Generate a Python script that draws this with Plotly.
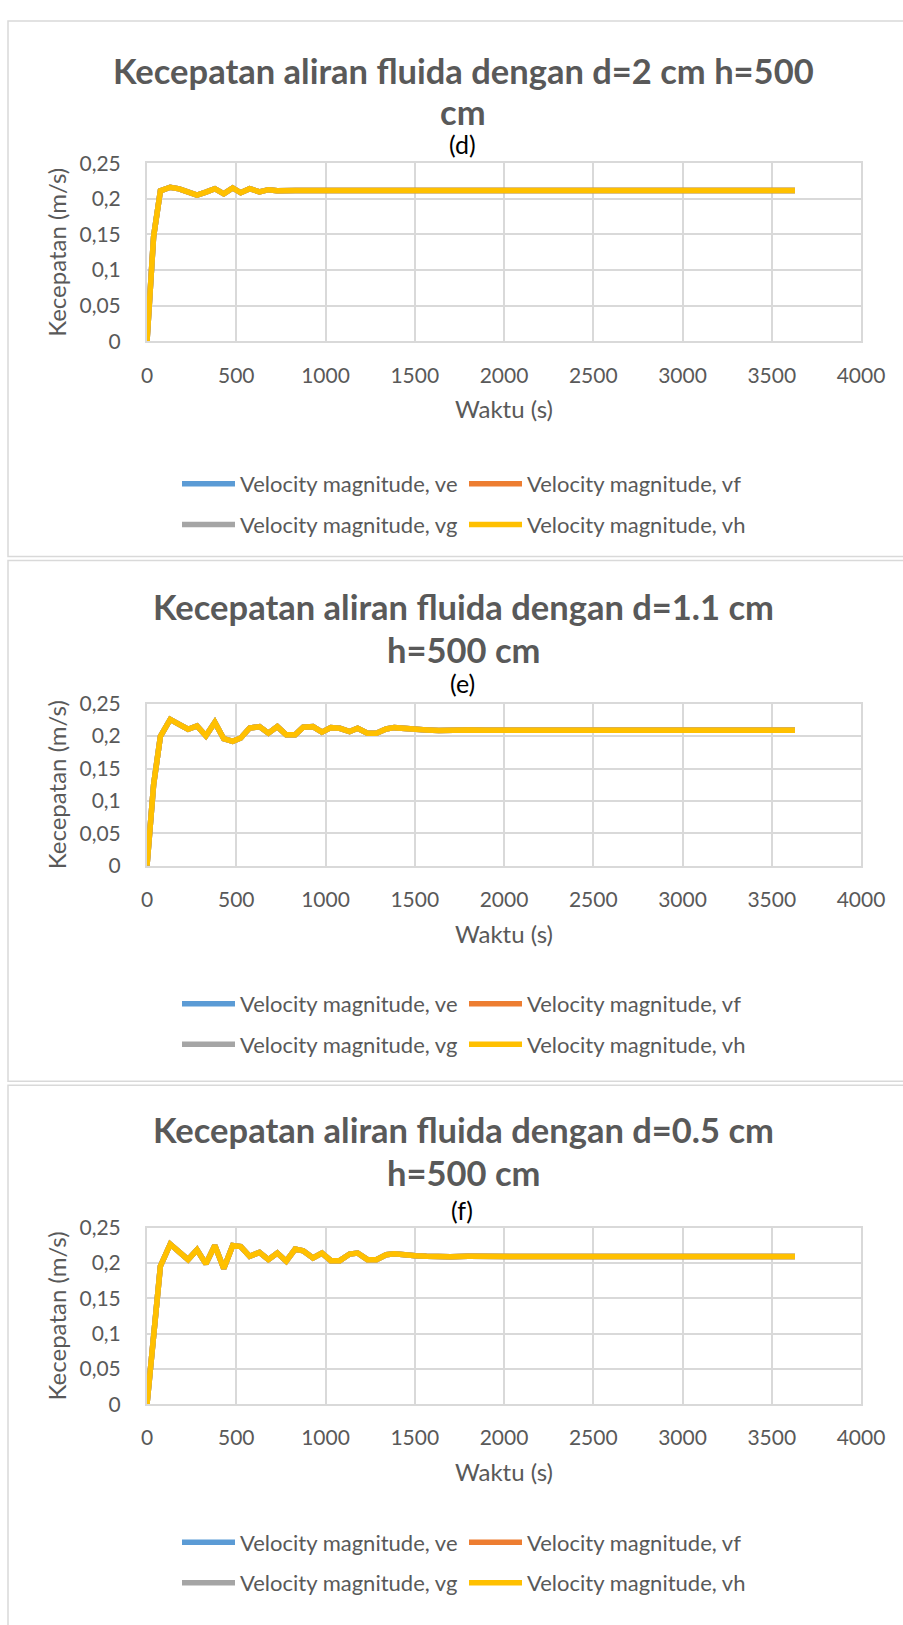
import plotly.graph_objects as go

# ---------------- data ----------------
time_s = [0, 37, 75, 130, 180, 230, 280, 330, 380, 430, 480, 525, 575, 630, 680,
          730, 780, 830, 875, 930, 980, 1030, 1080, 1135, 1180, 1235, 1285, 1340,
          1385, 1450, 1505, 1565, 1635, 1700, 1800, 1900, 2000, 2500, 3000, 3630]

v_d = [0, 0.147, 0.2112, 0.2162, 0.2140, 0.2088, 0.2052, 0.2095, 0.2142, 0.2070,
       0.2152, 0.2085, 0.2142, 0.2098, 0.2128, 0.2114, 0.2122, 0.2116, 0.2115, 0.2115,
       0.2115, 0.2115, 0.2115, 0.2115, 0.2115, 0.2115, 0.2115, 0.2115, 0.2115, 0.2115,
       0.2115, 0.2115, 0.2115, 0.2115, 0.2115, 0.2115, 0.2115, 0.2115, 0.2115, 0.2115]

v_e = [0, 0.125, 0.1995, 0.2258, 0.2180, 0.2106, 0.2157, 0.2005, 0.2212, 0.1960,
       0.1919, 0.1970, 0.2125, 0.2146, 0.2045, 0.2146, 0.2020, 0.2020, 0.2136, 0.2146,
       0.2061, 0.2131, 0.2121, 0.2071, 0.2121, 0.2045, 0.2045, 0.2111, 0.2131, 0.2111,
       0.2106, 0.2096, 0.2086, 0.2094, 0.2095, 0.2092, 0.2092, 0.2092, 0.2092, 0.2092]

v_f = [0, 0.100, 0.1954, 0.2264, 0.2155, 0.2046, 0.2185, 0.1986, 0.2245, 0.1921,
       0.2245, 0.2231, 0.2093, 0.2148, 0.2046, 0.2139, 0.2023, 0.2194, 0.2171, 0.2069,
       0.2139, 0.2032, 0.2032, 0.2125, 0.2139, 0.2046, 0.2046, 0.2116, 0.2130, 0.2106,
       0.2102, 0.2093, 0.2083, 0.2088, 0.2093, 0.2090, 0.2090, 0.2090, 0.2090, 0.2090]

# the four probes (ve, vf, vg, vh) coincide in every panel
panel_series = [
    {"ve": v_d, "vf": v_d, "vg": v_d, "vh": v_d},
    {"ve": v_e, "vf": v_e, "vg": v_e, "vh": v_e},
    {"ve": v_f, "vf": v_f, "vg": v_f, "vh": v_f},
]
series_keys = ["ve", "vf", "vg", "vh"]
series_names = ["Velocity magnitude, ve", "Velocity magnitude, vf",
                "Velocity magnitude, vg", "Velocity magnitude, vh"]
series_colors = ["#5B9BD5", "#ED7D31", "#A5A5A5", "#FFC000"]

titles = [
    ["Kecepatan aliran fluida dengan d=2 cm h=500", "cm"],
    ["Kecepatan aliran fluida dengan d=1.1 cm", "h=500 cm"],
    ["Kecepatan aliran fluida dengan d=0.5 cm", "h=500 cm"],
]
sub_labels = ["(d)", "(e)", "(f)"]

x_tickvals = [0, 500, 1000, 1500, 2000, 2500, 3000, 3500, 4000]
x_ticktext = ["0", "500", "1000", "1500", "2000", "2500", "3000", "3500", "4000"]
y_tickvals = [0, 0.05, 0.1, 0.15, 0.2, 0.25]
y_ticktext = ["0", "0,05", "0,1", "0,15", "0,2", "0,25"]
x_title = "Waktu (s)"
y_title = "Kecepatan (m/s)"

# ---------------- layout geometry (pixels) ----------------
W, H = 903, 1625
ML, MR = 140, 40
GW = W - ML - MR


def px(x):
    return (x - ML) / GW


def py(y):
    return 1 - y / H


plot_x = (147, 861)
plot_y = [(151.5, 332.5), (700.5, 865), (1232.5, 1412)]
title_y = [(57, 99), (602, 645), (1133, 1177)]
sub_y = [132, 679, 1215]
legend_top = [456, 984, 1531]
borders = [(8, 7, 910, 551), (8, 555, 910, 1084), (8, 1088, 910, 1640)]

TXT = "#595959"
GRID = "#D9D9D9"
FONT = "Lato"
TICK_SIZE = 21
AXT_SIZE = 24
LEG_SIZE = 22
LEG_SYMBOL_W = 53

fig = go.Figure()
layout = dict(
    width=W, height=H,
    margin=dict(l=ML, r=MR, t=0, b=0),
    paper_bgcolor="white", plot_bgcolor="white",
    font=dict(family=FONT, color=TXT),
    annotations=[], shapes=[],
)

for i in range(3):
    sfx = "" if i == 0 else str(i + 1)
    leg = "legend" + sfx
    for k, name, col in zip(series_keys, series_names, series_colors):
        fig.add_trace(go.Scatter(
            x=time_s, y=panel_series[i][k], mode="lines", name=name,
            line=dict(color=col, width=5.5),
            xaxis="x" + sfx, yaxis="y" + sfx,
            legend=leg, legendgroup=f"{k}{i}",
        ))
    layout["xaxis" + sfx] = dict(
        domain=[px(plot_x[0]), px(plot_x[1])], anchor="y" + sfx,
        range=[0, 4000], tickvals=x_tickvals, ticktext=x_ticktext,
        showgrid=True, gridcolor=GRID, gridwidth=2, zeroline=False,
        showline=True, linecolor=GRID, linewidth=2, mirror=True,
        ticks="", ticklabelstandoff=14,
        tickfont=dict(family=FONT, size=TICK_SIZE, color=TXT),
        title=dict(text=x_title, font=dict(family=FONT, size=AXT_SIZE, color=TXT), standoff=16),
        fixedrange=True,
    )
    layout["yaxis" + sfx] = dict(
        domain=[py(plot_y[i][1]), py(plot_y[i][0])], anchor="x" + sfx,
        range=[0, 0.25], tickvals=y_tickvals, ticktext=y_ticktext,
        showgrid=True, gridcolor=GRID, gridwidth=2, zeroline=False,
        showline=True, linecolor=GRID, linewidth=2, mirror=True,
        ticks="", ticklabelstandoff=20,
        tickfont=dict(family=FONT, size=TICK_SIZE, color=TXT),
        title=dict(text=y_title, font=dict(family=FONT, size=AXT_SIZE, color=TXT), standoff=6),
        fixedrange=True,
    )
    layout[leg] = dict(
        orientation="h", x=px(177), xanchor="left",
        y=py(legend_top[i]), yanchor="top",
        traceorder="grouped", tracegroupgap=9,
        itemwidth=LEG_SYMBOL_W,
        entrywidth=219, entrywidthmode="pixels",
        font=dict(family=FONT, size=LEG_SIZE, color=TXT),
        bgcolor="rgba(0,0,0,0)", borderwidth=0,
    )
    for line_text, ly in zip(titles[i], title_y[i]):
        layout["annotations"].append(dict(
            text=f"<b>{line_text}</b>", x=px(463), y=py(ly), xref="paper", yref="paper",
            xanchor="center", yanchor="middle", showarrow=False,
            font=dict(family=FONT, size=34.5, color=TXT),
        ))
    layout["annotations"].append(dict(
        text=sub_labels[i], x=px(462), y=py(sub_y[i]), xref="paper", yref="paper",
        xanchor="center", yanchor="middle", showarrow=False,
        font=dict(family=FONT, size=25, color="#000000"),
    ))
    bx0, by0, bx1, by1 = borders[i]
    layout["shapes"].append(dict(
        type="rect", xref="paper", yref="paper",
        x0=px(bx0), x1=px(bx1), y0=py(by0), y1=py(by1),
        line=dict(color=GRID, width=1.5), fillcolor="rgba(0,0,0,0)", layer="below",
    ))

fig.update_layout(**layout)
fig.write_html(
    "out.html",
    config={"displayModeBar": False},
    post_script="document.body.style.margin='0';document.body.style.overflow='hidden';",
)
